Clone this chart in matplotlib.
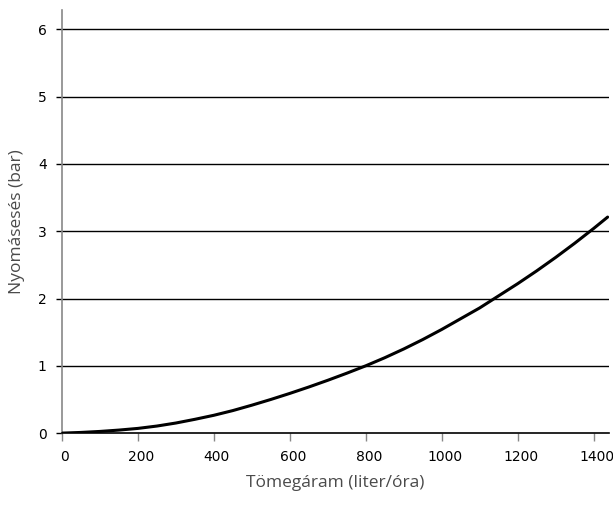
import matplotlib
matplotlib.use('Agg')
import matplotlib.pyplot as plt
import matplotlib.transforms as mtrans

# flow (liter/ora) vs pressure drop (bar)
flow = [0, 50, 100, 150, 200, 250, 300, 350, 400, 450, 500, 550, 600, 650, 700, 750,
        800, 850, 900, 950, 1000, 1050, 1100, 1150, 1200, 1250, 1300, 1350, 1400, 1437]
drop = [0, 0.01, 0.025, 0.045, 0.07, 0.105, 0.15, 0.205, 0.265, 0.335, 0.415, 0.50,
        0.59, 0.685, 0.785, 0.89, 1.0, 1.12, 1.25, 1.39, 1.54, 1.70, 1.86, 2.04,
        2.22, 2.41, 2.61, 2.82, 3.04, 3.21]

xticks = [0, 200, 400, 600, 800, 1000, 1200, 1400]
yticks = [0, 1, 2, 3, 4, 5, 6]

fig = plt.figure(figsize=(6.13, 5.15), dpi=100)
ax = fig.add_axes([0.1011, 0.159, 0.892, 0.822])

for y in yticks[1:]:
    ax.axhline(y, color='black', lw=1.0, zorder=1)

ax.plot(flow, drop, color='black', lw=2.2, zorder=3,
        solid_capstyle='round', solid_joinstyle='round')

ax.set_xlim(0, 1440)
ax.set_ylim(0, 6.29)
ax.set_xticks(xticks)
ax.set_yticks(yticks)

tick_font = dict(family='DejaVu Sans', size=10)
ax.set_xticklabels([str(v) for v in xticks], **tick_font)
ax.set_yticklabels([str(v) for v in yticks], **tick_font)
ax.tick_params(axis='x', direction='out', length=6, width=1, color='#888888', pad=6)
ax.tick_params(axis='y', direction='out', length=4, width=1, color='black', pad=7)
# labels sit slightly right of their ticks in the reference
offset = mtrans.ScaledTranslation(3 / 100, 0, fig.dpi_scale_trans)
for lbl in ax.get_xticklabels():
    lbl.set_transform(lbl.get_transform() + offset)

for s in ['top', 'right']:
    ax.spines[s].set_visible(False)
ax.spines['left'].set_color('#888888')
ax.spines['left'].set_linewidth(1.2)
ax.spines['bottom'].set_color('black')
ax.spines['bottom'].set_linewidth(1.2)

lab_font = dict(family=['Open Sans', 'DejaVu Sans'], size=12.5, color='#4a4a4a')
ax.set_xlabel('Tömegáram (liter/óra)', labelpad=8, **lab_font)
ax.set_ylabel('Nyomásesés (bar)', labelpad=9, **lab_font)

fig.savefig('out.png', dpi=100)
